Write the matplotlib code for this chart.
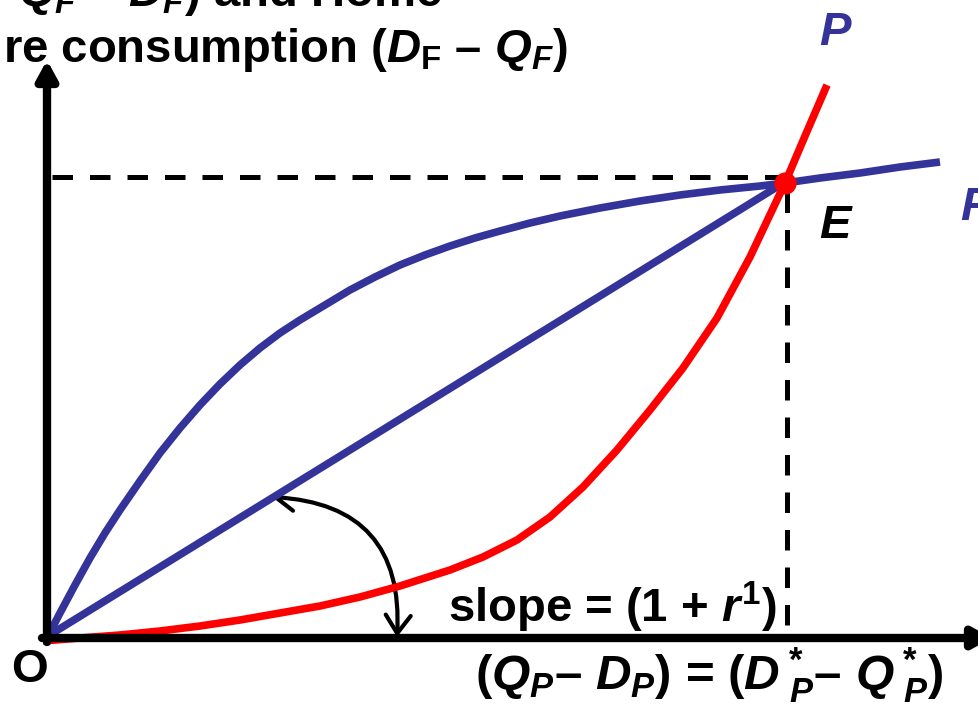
import numpy as np
import matplotlib
matplotlib.use("Agg")
import matplotlib.pyplot as plt
from matplotlib.patches import FancyArrowPatch

plt.rcParams['font.family'] = ['Liberation Sans', 'DejaVu Sans']
plt.rcParams['font.weight'] = 'bold'
plt.rcParams['mathtext.fontset'] = 'custom'
plt.rcParams['mathtext.rm'] = 'Liberation Sans:bold'
plt.rcParams['mathtext.it'] = 'Liberation Sans:italic:bold'
plt.rcParams['mathtext.bf'] = 'Liberation Sans:bold'

# curves (pixel units, y grows downward)
f_x = [48, 60, 75, 90, 105, 120, 140, 160, 180, 200, 220, 240, 260, 280, 300,
       325, 350, 375, 400, 425, 450, 475, 500, 530, 560, 600, 640, 680, 720,
       760, 785, 820, 860, 900, 940]
f_y = [636, 613, 585, 558, 533, 510, 481, 453, 428, 405, 384, 365, 348, 333, 320,
       305, 290, 277, 265, 255, 246, 238, 231, 223, 216, 208, 201, 195, 190,
       186, 183, 178, 173, 167, 162]

p_x = [43, 80, 120, 160, 200, 240, 280, 320, 360, 400, 450, 483, 517, 550, 583,
       617, 650, 683, 717, 750, 785, 805, 827]
p_y = [641, 638, 635, 631, 626, 620, 613, 606, 597, 586, 570, 557, 540, 517, 487,
       450, 410, 368, 318, 257, 183, 136, 85]

line_x = [48, 785]
line_y = [636, 182]

eq_x, eq_y = 785, 183

blue = '#333399'
red = '#ff0000'

fig = plt.figure(figsize=(9.79, 7.05), dpi=100)
ax = fig.add_axes([0, 0, 1, 1])
ax.set_xlim(0, 979)
ax.set_ylim(705, 0)
ax.axis('off')

# axes with arrow heads
head = '-|>,head_length=1.1,head_width=0.6'
ax.annotate('', xy=(47, 60), xytext=(47, 642), annotation_clip=False,
            arrowprops=dict(arrowstyle=head, lw=6, color='black',
                            shrinkA=0, shrinkB=0))
ax.annotate('', xy=(992, 638), xytext=(42, 638), annotation_clip=False,
            arrowprops=dict(arrowstyle=head, lw=6, color='black',
                            shrinkA=0, shrinkB=0))

# dashed guides to E
ax.plot([52, eq_x], [177, 177], color='black', lw=3.6, dashes=(4.1, 3.4))
ax.plot([787, 787], [192, 636], color='black', lw=3.6, dashes=(4.1, 3.4))

ax.plot(f_x, f_y, color=blue, lw=5.5, solid_capstyle='butt', solid_joinstyle='round')
ax.plot(line_x, line_y, color=blue, lw=5.5, solid_capstyle='butt')
ax.plot(p_x, p_y, color=red, lw=5.5, solid_capstyle='butt', solid_joinstyle='round')
ax.plot(eq_x, eq_y, 'o', color=red, ms=15)

arc = FancyArrowPatch((272, 497), (397, 637),
                      connectionstyle='arc3,rad=-0.5',
                      arrowstyle='<->,head_length=0.65,head_width=0.45',
                      mutation_scale=20, lw=3, color='black',
                      shrinkA=0, shrinkB=0)
ax.add_patch(arc)

# labels
ax.text(442, 6, r'$Q_F$ – $D_F$) and Home', fontsize=34, ha='right', va='baseline')
ax.text(3, 62, r're consumption ($D_\mathrm{F}$ – $Q_F$)', fontsize=34,
        ha='left', va='baseline')
ax.text(836, 45, r'$P$', fontsize=34, color=blue, ha='center', va='baseline')
ax.text(960, 220, r'$F$', fontsize=34, color=blue, ha='left', va='baseline')
ax.text(836, 238, r'$E$', fontsize=34, color='black', ha='center', va='baseline')
ax.text(30, 682, 'O', fontsize=34, ha='center', va='baseline')
ax.text(448, 622, r'slope = (1 + $r^\mathrm{1}$)', fontsize=34, ha='left',
        va='baseline')
ax.text(475, 690, r'($Q_P$– $D_P$) = ($D^*_{\ P}$– $Q^*_{\ P}$)', fontsize=35.5,
        ha='left', va='baseline')

fig.savefig('out.png', dpi=100)
